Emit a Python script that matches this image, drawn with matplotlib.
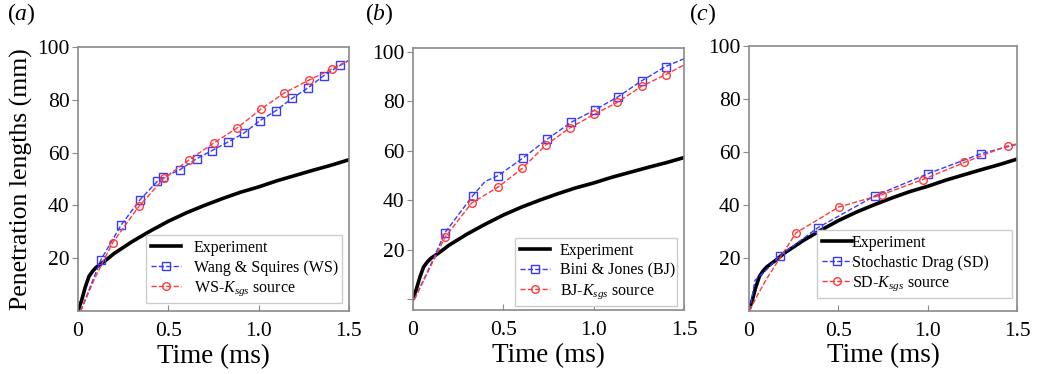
import matplotlib
matplotlib.use('Agg')
import matplotlib.pyplot as plt

plt.rcParams['font.family'] = ['Liberation Serif', 'DejaVu Serif']
plt.rcParams['mathtext.fontset'] = 'custom'
plt.rcParams['mathtext.rm'] = 'Liberation Serif'
plt.rcParams['mathtext.it'] = 'Liberation Serif:italic'

# experiment (same curve in all three panels)
exp_t = [0, 0.02, 0.04, 0.06, 0.08, 0.1, 0.15, 0.2, 0.3, 0.4, 0.5, 0.6, 0.7,
         0.8, 0.9, 1.0, 1.1, 1.2, 1.3, 1.4, 1.5]
exp_L = [0, 4, 9, 13, 15, 16.5, 19, 21.8, 26.3, 30.3, 34, 37.2, 40, 42.6, 45,
         47, 49.3, 51.3, 53.3, 55.2, 57.3]

# (a) Wang & Squires
ws_t = [0.015, 0.127, 0.238, 0.343, 0.439, 0.472, 0.564, 0.657, 0.742, 0.828,
        0.919, 1.007, 1.096, 1.184, 1.273, 1.361, 1.45, 1.5]
ws_L = [0, 19.4, 32.5, 42.1, 49.1, 50.6, 53.5, 57.7, 60.8, 63.9, 67.4, 72.1,
        75.9, 80.5, 84.5, 89.2, 93.0, 94.9]
ws_mk = list(range(1, 17))
wsk_t = [0.015, 0.09, 0.192, 0.339, 0.478, 0.616, 0.751, 0.880, 1.013, 1.142,
         1.277, 1.406, 1.5]
wsk_L = [0, 12, 25.9, 39.8, 50.4, 57.3, 63.6, 69.3, 76.5, 82.6, 87.4, 91.7, 95]
wsk_mk = list(range(2, 12))

# (b) Bini & Jones
bj_t = [0.01, 0.1, 0.178, 0.331, 0.40, 0.473, 0.607, 0.743, 0.874, 1.007,
        1.135, 1.264, 1.397, 1.5]
bj_L = [0, 14, 26.9, 41.8, 47.6, 50.0, 57.0, 64.7, 71.5, 76.6, 81.9, 88.3,
        94.1, 97.3]
bj_mk = [2, 3, 5, 6, 7, 8, 9, 10, 11, 12]
bjk_t = [0.01, 0.1, 0.178, 0.326, 0.473, 0.605, 0.736, 0.869, 1.001, 1.130,
         1.264, 1.397, 1.5]
bjk_L = [0, 13.5, 25.0, 38.9, 45.4, 52.9, 62.4, 69.3, 74.7, 79.6, 86.1, 90.8,
         94.8]
bjk_mk = list(range(2, 12))

# (c) Stochastic Drag
sd_t = [0.005, 0.035, 0.1, 0.175, 0.385, 0.705, 0.999, 1.297, 1.5]
sd_L = [0, 11.5, 15.5, 20.8, 31.3, 43.4, 51.7, 59.3, 62.9]
sd_mk = [3, 4, 5, 6, 7]
sdk_t = [0.005, 0.05, 0.1, 0.18, 0.264, 0.504, 0.742, 0.971, 1.204, 1.446, 1.5]
sdk_L = [0, 6, 12, 20.5, 29.4, 39.2, 43.8, 49.5, 56.0, 62.3, 63]
sdk_mk = [4, 5, 6, 7, 8, 9]

panels = [
    ('a', ws_t, ws_L, ws_mk, wsk_t, wsk_L, wsk_mk,
     'Wang & Squires (WS)', r'WS-$K_{sgs}$ source'),
    ('b', bj_t, bj_L, bj_mk, bjk_t, bjk_L, bjk_mk,
     'Bini & Jones (BJ)', r'BJ-$K_{sgs}$ source'),
    ('c', sd_t, sd_L, sd_mk, sdk_t, sdk_L, sdk_mk,
     'Stochastic Drag (SD)', r'SD-$K_{sgs}$ source'),
]

rects = [[0.0752, 0.1684, 0.2613, 0.7059],
         [0.398, 0.1711, 0.2619, 0.7000],
         [0.722, 0.1693, 0.259, 0.7077]]
ylims = [(0, 100), (-4.4, 101.5), (0, 100)]
# legend box in axes fraction: x0, y0, width
leg_box = [(0.251, 0.03, 0.723), (0.377, 0.015, 0.597), (0.254, 0.048, 0.726)]
leg_pad = [0.8, 0.6, 0.0]
lab_x = [0.007, 0.352, 0.664]

fig = plt.figure(figsize=(10.37, 3.74), dpi=100)
gray = '#8a8a8a'

for i, (tag, bt, bL, bmk, rt, rL, rmk, blab, rlab) in enumerate(panels):
    ax = fig.add_axes(rects[i])
    ax.plot(exp_t, exp_L, color='black', lw=2.6, label='Experiment')
    ax.plot(bt, bL, ls='--', color='#3a3aff', lw=1.0, marker='s',
            markevery=bmk, ms=5.5, mfc='none', mec='#3a3aff', mew=1.0,
            label=blab)
    ax.plot(rt, rL, ls='--', color='#ff3a3a', lw=1.0, marker='o',
            markevery=rmk, ms=5.5, mfc='none', mec='#ff3a3a', mew=1.0,
            label=rlab)
    ax.set_xlim(0, 1.5)
    ax.set_ylim(*ylims[i])
    ax.set_xticks([0, 0.5, 1.0, 1.5])
    ax.set_xticklabels(['0', '0.5', '1.0', '1.5'])
    if i == 1:
        ax.set_yticks([0, 20, 40, 60, 80, 100])
        ax.set_yticklabels(['', '20', '40', '60', '80', '100'])
    else:
        ax.set_yticks([20, 40, 60, 80, 100])
    for s in ax.spines.values():
        s.set_color(gray)
        s.set_linewidth(1.2)
    ax.tick_params(axis='y', direction='out', length=4, color=gray,
                   labelsize=15.5, pad=2)
    ax.tick_params(axis='x', direction='in', length=4, color=gray,
                   labelsize=15.5, pad=8)
    ax.set_xlabel('Time (ms)', fontsize=19.5, labelpad=2)
    if i == 0:
        ax.set_ylabel('Penetration lengths (mm)', fontsize=18.5, labelpad=3)
    x0, y0, w = leg_box[i]
    leg = ax.legend(loc='lower left', bbox_to_anchor=(x0, y0, w, 0.2),
                    mode='expand', fontsize=11.5, frameon=True,
                    fancybox=False, framealpha=1, edgecolor='#cccccc',
                    handlelength=1.9, handletextpad=leg_pad[i],
                    borderpad=0.3, labelspacing=0.25, borderaxespad=0)
    leg.get_frame().set_linewidth(1.0)
    fig.text(lab_x[i], 0.962, '($\\mathit{' + tag + '}$)', fontsize=17,
             va='center', ha='left')

fig.savefig('out.png', dpi=100)
